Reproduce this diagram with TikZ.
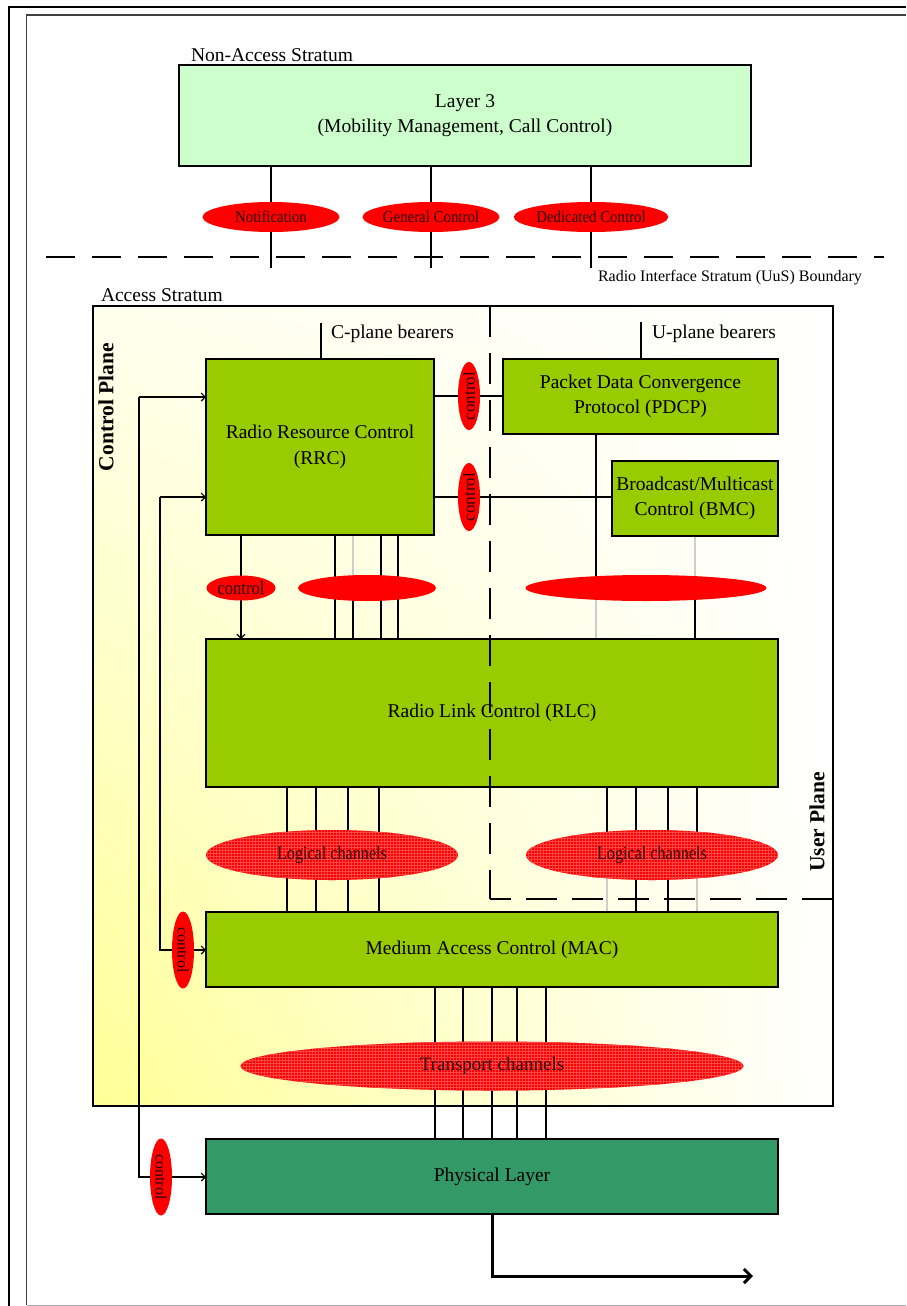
\documentclass[tikz,border=0pt]{standalone}
\usepackage{fontspec}
\setmainfont{Liberation Serif}
\usetikzlibrary{shapes.geometric,arrows.meta,patterns,shadings}

\pgfdeclarelayer{shadelayer}
\pgfdeclarelayer{wirelayer}
\pgfsetlayers{shadelayer,wirelayer,main}

\definecolor{lthreegreen}{RGB}{204,255,204}
\definecolor{boxgreen}{RGB}{153,204,0}
\definecolor{phygreen}{RGB}{51,153,102}
\definecolor{chanred}{RGB}{255,0,0}
\definecolor{gridred}{RGB}{255,70,70}
\definecolor{labelred}{RGB}{40,0,0}
\definecolor{paleyellow}{RGB}{255,255,150}
\definecolor{fadedyellow}{RGB}{255,255,238}
\definecolor{faintline}{RGB}{205,205,205}

\tikzset{
  every node/.style={inner sep=0pt, outer sep=0pt},
  layerbox/.style={draw, line width=1.4pt, rectangle, align=center,
    font=\fontsize{19.5}{25.5}\selectfont},
  greenbox/.style={layerbox, fill=boxgreen},
  chan/.style={ellipse, fill=chanred, text=labelred},
  gridchan/.style={chan, postaction={pattern=grid, pattern color=gridred}},
  conn/.style={line width=1.1pt},
  faint/.style={line width=1.1pt, draw=faintline},
  headarrow/.style={-{Straight Barb[length=4pt,width=8pt]}},
  plaintext/.style={font=\fontsize{19.5}{23}\selectfont, anchor=base west},
  planetext/.style={font=\bfseries\fontsize{21.5}{24}\selectfont, rotate=90},
  ctltext/.style={text=labelred},
  boundary/.style={line width=1.3pt, dash pattern=on 31pt off 16pt},
}

\begin{document}
\begin{tikzpicture}[x=1pt, y=-1pt]
\useasboundingbox (0,0) rectangle (906,1306);

% page frames
\draw[line width=2.6pt] (9,1306) -- (9,7) -- (906,7);
\draw[line width=1.2pt, draw=black!75] (26.5,1305) -- (26.5,15) -- (906,15);
\draw[line width=1pt, draw=black!35] (26.5,1305.5) -- (906,1305.5);

% ---------------- Non-Access Stratum ----------------
\node[plaintext] (nastext) at (191,61.5) {Non-Access Stratum};
\node[layerbox, fill=lthreegreen, minimum width=572, minimum height=101] (l3) at (465,115.5)
  {Layer 3\\(Mobility Management, Call Control)};

\node[chan, minimum width=137, minimum height=30] (notif) at (271,217)
  {\fontsize{16.5}{18}\selectfont\scalebox{0.9}[1]{Notification}};
\node[chan, minimum width=137, minimum height=30] (genctl) at (431,217)
  {\fontsize{16.5}{18}\selectfont\scalebox{0.9}[1]{General Control}};
\node[chan, minimum width=137, minimum height=30] (dedctl) at (591,217)
  {\fontsize{16.5}{18}\selectfont\scalebox{0.9}[1]{Dedicated Control}};

\coordinate (notifend) at (271,268);
\coordinate (genend) at (431,268);
\coordinate (dedend) at (591,268);
\begin{pgfonlayer}{wirelayer}
  \draw[conn] (l3.south -| notif) -- (notifend);
  \draw[conn] (l3.south -| genctl) -- (genend);
  \draw[conn] (l3.south -| dedctl) -- (dedend);
\end{pgfonlayer}

% stratum boundary
\coordinate (uusW) at (46,257);
\coordinate (uusE) at (884,257);
\draw[line width=1.5pt, dash pattern=on 29pt off 17pt] (uusW) -- (uusE);
\node[font=\fontsize{16}{19}\selectfont, anchor=base west] (uustext) at (598,281)
  {Radio Interface Stratum (UuS) Boundary};

% ---------------- Access Stratum ----------------
\node[plaintext] (astext) at (101,301) {Access Stratum};
\node[draw, line width=1.2pt, minimum width=740, minimum height=800, anchor=north west] (as) at (93,306) {};
\begin{pgfonlayer}{shadelayer}
  \shade[lower left=paleyellow, lower right=white, upper left=fadedyellow, upper right=white]
    (as.south west) rectangle (as.north east);
\end{pgfonlayer}

\node[planetext] (cplane) at (106,407) {Control Plane};
\node[planetext] (uplane) at (817,822) {User Plane};

% protocol boxes
\node[greenbox, minimum width=228, minimum height=176] (rrc) at (320,447)
  {Radio Resource Control\\(RRC)};
\node[greenbox, minimum width=275, minimum height=75] (pdcp) at (640.5,396.5)
  {Packet Data Convergence\\Protocol (PDCP)};
\node[greenbox, minimum width=166, minimum height=75] (bmc) at (695,498.5)
  {Broadcast/Multicast\\Control (BMC)};
\node[greenbox, minimum width=572, minimum height=148] (rlc) at (492,713)
  {Radio Link Control (RLC)};
\node[greenbox, minimum width=572, minimum height=75] (mac) at (492,949.5)
  {Medium Access Control (MAC)};
\node[layerbox, fill=phygreen, minimum width=572, minimum height=75] (phy) at (492,1176.5)
  {Physical Layer};

% bearer labels
\coordinate (cbear) at (321,323);
\coordinate (ubear) at (641,322);
\node[plaintext] (cbeartext) at (331,338) {C-plane bearers};
\node[plaintext] (ubeartext) at (652,338) {U-plane bearers};

% control ellipses
\node[chan, minimum width=22, minimum height=68] (ctlpdcp) at (469,396) {};
\node[ctltext, rotate=90, font=\fontsize{17}{17}\selectfont] (ctlpdcptext) at (ctlpdcp) {control};
\node[chan, minimum width=22, minimum height=68] (ctlbmc) at (469,497) {};
\node[ctltext, rotate=90, font=\fontsize{17}{17}\selectfont] (ctlbmctext) at (ctlbmc) {control};
\node[chan, minimum width=69, minimum height=25] (ctlrlc) at (241,588) {};
\node[ctltext, font=\fontsize{19}{19}\selectfont] (ctlrlctext) at (ctlrlc) {\scalebox{0.87}[1]{control}};
\node[chan, minimum width=22, minimum height=77] (ctlmac) at (183,950) {};
\node[ctltext, rotate=-90, font=\fontsize{16}{16}\selectfont] (ctlmactext) at (ctlmac) {control};
\node[chan, minimum width=22, minimum height=77] (ctlphy) at (161,1177) {};
\node[ctltext, rotate=-90, font=\fontsize{16}{16}\selectfont] (ctlphytext) at (ctlphy) {control};

% channel ellipses
\node[chan, minimum width=138, minimum height=26] (bearC) at (367,588) {};
\node[chan, minimum width=241, minimum height=26] (bearU) at (646,588) {};
\node[gridchan, minimum width=252, minimum height=50] (logL) at (332,855)
  {\fontsize{19}{19}\selectfont\scalebox{0.85}[1]{Logical channels}};
\node[gridchan, minimum width=252, minimum height=50] (logR) at (652,855)
  {\fontsize{19}{19}\selectfont\scalebox{0.85}[1]{Logical channels}};
\node[gridchan, minimum width=503, minimum height=49] (trans) at (492,1066)
  {\fontsize{19}{19}\selectfont Transport channels};

% control buses
\coordinate (busA) at (139,397);
\coordinate (busB) at (160,497);
\coordinate (upcorner) at (490,899);
\coordinate (outbend) at (492.5,1276);
\coordinate (outend) at (753,1276);

\begin{pgfonlayer}{wirelayer}
  \draw[conn] (cbear) -- (rrc.north -| cbear);
  \draw[conn] (ubear) -- (pdcp.north -| ubear);

  \draw[conn] (rrc.east |- ctlpdcp) -- (pdcp.west |- ctlpdcp);
  \draw[conn] (rrc.east |- ctlbmc) -- (bmc.west |- ctlbmc);

  \draw[conn, headarrow] (busA) -- (rrc.west |- busA);
  \draw[conn, headarrow] (busA) -- (busA |- ctlphy) -- (phy.west |- ctlphy);
  \draw[conn, headarrow] (busB) -- (rrc.west |- busB);
  \draw[conn, headarrow] (busB) -- (busB |- ctlmac) -- (mac.west |- ctlmac);

  \draw[conn, headarrow] (rrc.south -| ctlrlc) -- (rlc.north -| ctlrlc);

  % control-plane bearers RRC -> RLC
  \foreach \x in {335,381,398}
    \draw[conn] (rrc.south -| \x,0) -- (rlc.north -| \x,0);
  \draw[faint] (rrc.south -| 353,0) -- (bearC -| 353,0);
  \draw[conn] (bearC -| 353,0) -- (rlc.north -| 353,0);

  % user-plane bearers PDCP/BMC -> RLC
  \draw[conn] (pdcp.south -| 596,0) -- (bearU -| 596,0);
  \draw[faint] (bearU -| 596,0) -- (rlc.north -| 596,0);
  \draw[faint] (bmc.south) -- (bearU -| bmc.south);
  \draw[conn] (bearU -| bmc.south) -- (rlc.north -| bmc.south);

  % logical channels RLC -> MAC
  \foreach \x in {287,316,348,379}
    \draw[conn] (rlc.south -| \x,0) -- (mac.north -| \x,0);
  \foreach \x in {607,636,668,697}
    \draw[conn] (rlc.south -| \x,0) -- (logR -| \x,0);
  \foreach \x in {636,668}
    \draw[conn] (logR -| \x,0) -- (mac.north -| \x,0);
  \foreach \x in {607,697}
    \draw[faint] (logR -| \x,0) -- (mac.north -| \x,0);

  % transport channels MAC -> PHY
  \foreach \x in {435,463,492,517,546}
    \draw[conn] (mac.south -| \x,0) -- (phy.north -| \x,0);
\end{pgfonlayer}

% user plane boundary
\draw[boundary] (as.north -| upcorner) -- (upcorner);
\draw[boundary, dash pattern=on 31pt off 15pt] (as.east |- upcorner) -- (upcorner);

% radio output
\draw[line width=3pt, -{Straight Barb[length=7pt,width=14pt]}]
  (phy.south -| outbend) -- (outbend) -- (outend);
\end{tikzpicture}
\end{document}
